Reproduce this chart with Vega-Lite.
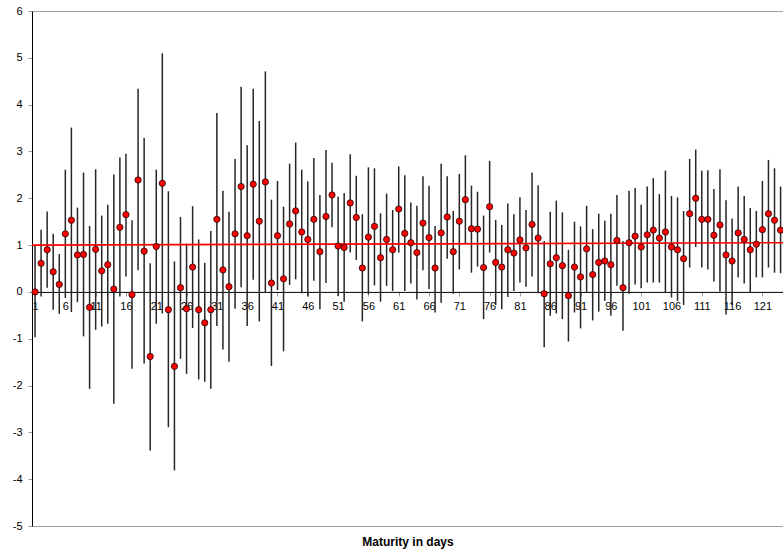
{
  "$schema": "https://vega.github.io/schema/vega-lite/v6.json",
  "width": 751,
  "height": 515,
  "autosize": {"type": "none"},
  "padding": {"left": 32, "top": 11, "right": 0, "bottom": 28},
  "background": "white",
  "config": {
    "view": {"stroke": "#a0a0a0", "strokeWidth": 1},
    "font": "Liberation Sans",
    "axis": {"labelFont": "Liberation Sans", "labelFontSize": 11, "labelColor": "#000", "tickColor": "#999", "domainColor": "#000", "grid": false, "titleFont": "Liberation Sans", "titleColor": "#000"}
  },
  "datasets": {
    "pts": [
      {"d":1,"m":0.00,"lo":-0.97,"hi":1.00},{"d":2,"m":0.61,"lo":-0.10,"hi":1.33},{"d":3,"m":0.90,"lo":0.09,"hi":1.72},{"d":4,"m":0.43,"lo":-0.38,"hi":1.24},{"d":5,"m":0.16,"lo":-0.47,"hi":0.81},
      {"d":6,"m":1.24,"lo":-0.13,"hi":2.61},{"d":7,"m":1.53,"lo":-0.43,"hi":3.51},{"d":8,"m":0.79,"lo":-0.22,"hi":1.80},{"d":9,"m":0.80,"lo":-0.95,"hi":2.55},{"d":10,"m":-0.33,"lo":-2.07,"hi":1.41},
      {"d":11,"m":0.91,"lo":-0.81,"hi":2.62},{"d":12,"m":0.45,"lo":-0.74,"hi":1.63},{"d":13,"m":0.58,"lo":-0.68,"hi":1.86},{"d":14,"m":0.06,"lo":-2.39,"hi":2.51},{"d":15,"m":1.38,"lo":-0.10,"hi":2.87},
      {"d":16,"m":1.65,"lo":0.33,"hi":2.95},{"d":17,"m":-0.06,"lo":-1.64,"hi":1.53},{"d":18,"m":2.39,"lo":0.46,"hi":4.34},{"d":19,"m":0.87,"lo":-1.53,"hi":3.29},{"d":20,"m":-1.38,"lo":-3.39,"hi":0.61},
      {"d":21,"m":0.97,"lo":-0.68,"hi":2.61},{"d":22,"m":2.32,"lo":-0.46,"hi":5.10},{"d":23,"m":-0.38,"lo":-2.89,"hi":2.15},{"d":24,"m":-1.59,"lo":-3.81,"hi":0.65},{"d":25,"m":0.09,"lo":-1.43,"hi":1.60},
      {"d":26,"m":-0.36,"lo":-1.75,"hi":1.03},{"d":27,"m":0.53,"lo":-0.77,"hi":1.83},{"d":28,"m":-0.38,"lo":-1.87,"hi":1.12},{"d":29,"m":-0.66,"lo":-1.92,"hi":0.62},{"d":30,"m":-0.38,"lo":-2.07,"hi":1.30},
      {"d":31,"m":1.55,"lo":-0.73,"hi":3.82},{"d":32,"m":0.47,"lo":-1.23,"hi":2.16},{"d":33,"m":0.11,"lo":-1.49,"hi":1.71},{"d":34,"m":1.24,"lo":-0.36,"hi":2.84},{"d":35,"m":2.25,"lo":0.10,"hi":4.38},
      {"d":36,"m":1.20,"lo":-0.73,"hi":3.13},{"d":37,"m":2.30,"lo":0.26,"hi":4.34},{"d":38,"m":1.51,"lo":-0.63,"hi":3.65},{"d":39,"m":2.35,"lo":-0.01,"hi":4.71},{"d":40,"m":0.19,"lo":-1.58,"hi":1.97},
      {"d":41,"m":1.20,"lo":0.04,"hi":2.37},{"d":42,"m":0.28,"lo":-1.27,"hi":1.82},{"d":43,"m":1.45,"lo":0.15,"hi":2.74},{"d":44,"m":1.73,"lo":0.27,"hi":3.19},{"d":45,"m":1.28,"lo":-0.03,"hi":2.61},
      {"d":46,"m":1.12,"lo":-0.10,"hi":2.36},{"d":47,"m":1.55,"lo":0.24,"hi":2.86},{"d":48,"m":0.86,"lo":-0.37,"hi":2.07},{"d":49,"m":1.61,"lo":0.19,"hi":3.03},{"d":50,"m":2.07,"lo":1.38,"hi":2.76},
      {"d":51,"m":0.98,"lo":-0.09,"hi":2.03},{"d":52,"m":0.95,"lo":-0.21,"hi":2.11},{"d":53,"m":1.90,"lo":0.84,"hi":2.94},{"d":54,"m":1.59,"lo":0.68,"hi":2.48},{"d":55,"m":0.51,"lo":-0.63,"hi":1.66},
      {"d":56,"m":1.17,"lo":-0.05,"hi":2.66},{"d":57,"m":1.40,"lo":0.14,"hi":2.64},{"d":58,"m":0.73,"lo":-0.21,"hi":1.68},{"d":59,"m":1.12,"lo":0.13,"hi":2.10},{"d":60,"m":0.90,"lo":0.02,"hi":1.75},
      {"d":61,"m":1.77,"lo":0.84,"hi":2.68},{"d":62,"m":1.25,"lo":0.02,"hi":2.49},{"d":63,"m":1.05,"lo":0.18,"hi":1.91},{"d":64,"m":0.84,"lo":-0.16,"hi":1.84},{"d":65,"m":1.47,"lo":0.46,"hi":2.47},
      {"d":66,"m":1.16,"lo":0.06,"hi":2.27},{"d":67,"m":0.51,"lo":-0.44,"hi":1.41},{"d":68,"m":1.26,"lo":-0.23,"hi":2.74},{"d":69,"m":1.60,"lo":0.71,"hi":2.47},{"d":70,"m":0.86,"lo":-0.04,"hi":1.73},
      {"d":71,"m":1.51,"lo":0.48,"hi":2.52},{"d":72,"m":1.97,"lo":1.02,"hi":2.92},{"d":73,"m":1.35,"lo":0.41,"hi":2.27},{"d":74,"m":1.34,"lo":0.54,"hi":2.14},{"d":75,"m":0.52,"lo":-0.58,"hi":1.63},
      {"d":76,"m":1.82,"lo":0.84,"hi":2.80},{"d":77,"m":0.63,"lo":-0.28,"hi":1.54},{"d":78,"m":0.53,"lo":-0.37,"hi":1.43},{"d":79,"m":0.90,"lo":-0.11,"hi":1.89},{"d":80,"m":0.83,"lo":0.02,"hi":1.66},
      {"d":81,"m":1.11,"lo":0.20,"hi":2.02},{"d":82,"m":0.94,"lo":0.11,"hi":1.75},{"d":83,"m":1.44,"lo":0.33,"hi":2.55},{"d":84,"m":1.15,"lo":-0.03,"hi":2.28},{"d":85,"m":-0.04,"lo":-1.18,"hi":1.09},
      {"d":86,"m":0.60,"lo":-0.51,"hi":1.71},{"d":87,"m":0.73,"lo":-0.46,"hi":1.95},{"d":88,"m":0.56,"lo":-0.58,"hi":1.70},{"d":89,"m":-0.08,"lo":-1.06,"hi":0.90},{"d":90,"m":0.53,"lo":-0.44,"hi":1.50},
      {"d":91,"m":0.32,"lo":-0.78,"hi":1.40},{"d":92,"m":0.92,"lo":0.00,"hi":1.84},{"d":93,"m":0.37,"lo":-0.61,"hi":1.34},{"d":94,"m":0.63,"lo":-0.42,"hi":1.67},{"d":95,"m":0.66,"lo":-0.19,"hi":1.52},
      {"d":96,"m":0.58,"lo":-0.51,"hi":1.67},{"d":97,"m":1.10,"lo":0.13,"hi":2.07},{"d":98,"m":0.09,"lo":-0.83,"hi":1.09},{"d":99,"m":1.05,"lo":-0.04,"hi":2.16},{"d":100,"m":1.19,"lo":0.16,"hi":2.22},
      {"d":101,"m":0.96,"lo":0.08,"hi":1.86},{"d":102,"m":1.22,"lo":0.20,"hi":2.25},{"d":103,"m":1.32,"lo":0.20,"hi":2.43},{"d":104,"m":1.15,"lo":0.20,"hi":2.09},{"d":105,"m":1.28,"lo":-0.01,"hi":2.59},
      {"d":106,"m":0.96,"lo":-0.12,"hi":2.05},{"d":107,"m":0.90,"lo":-0.19,"hi":2.02},{"d":108,"m":0.71,"lo":-0.28,"hi":1.73},{"d":109,"m":1.67,"lo":0.52,"hi":2.84},{"d":110,"m":2.00,"lo":0.96,"hi":3.04},
      {"d":111,"m":1.55,"lo":0.52,"hi":2.59},{"d":112,"m":1.55,"lo":0.48,"hi":2.60},{"d":113,"m":1.21,"lo":0.22,"hi":2.20},{"d":114,"m":1.43,"lo":0.01,"hi":2.62},{"d":115,"m":0.79,"lo":-0.48,"hi":1.96},
      {"d":116,"m":0.66,"lo":-0.28,"hi":1.57},{"d":117,"m":1.26,"lo":0.31,"hi":2.25},{"d":118,"m":1.12,"lo":0.18,"hi":2.05},{"d":119,"m":0.90,"lo":-0.01,"hi":1.79},{"d":120,"m":1.02,"lo":0.31,"hi":1.73},
      {"d":121,"m":1.33,"lo":0.31,"hi":2.37},{"d":122,"m":1.67,"lo":0.52,"hi":2.82},{"d":123,"m":1.53,"lo":0.41,"hi":2.64},{"d":124,"m":1.32,"lo":0.40,"hi":2.25}
    ],
    "trend": [{"d":0.5,"t":1.0},{"d":124.4,"t":1.05}]
  },
  "encoding": {
    "x": {
      "field": "d", "type": "quantitative",
      "scale": {"domain": [0.5, 124.4], "nice": false, "zero": false},
      "axis": {
        "values": [1,6,11,16,21,26,31,36,41,46,51,56,61,66,71,76,81,86,91,96,101,106,111,116,121],
        "offset": -234.1, "tickSize": 4, "labelPadding": 5, "labelFlush": false,
        "title": "Maturity in days", "titleY": 254, "titleBaseline": "alphabetic",
        "titleFontSize": 12, "titleFontWeight": "bold"
      }
    }
  },
  "layer": [
    {
      "data": {"name": "pts"},
      "mark": {"type": "rule", "color": "#262626", "strokeWidth": 1.5},
      "encoding": {
        "y": {"field": "lo", "type": "quantitative", "scale": {"domain": [-5, 6], "nice": false, "zero": false},
              "axis": {"values": [-5,-4,-3,-2,-1,0,1,2,3,4,5,6], "labelExpr": "'' + datum.value", "title": null, "tickSize": 4, "labelPadding": 6}},
        "y2": {"field": "hi"}
      }
    },
    {
      "data": {"name": "trend"},
      "mark": {"type": "line", "color": "#ff0000", "strokeWidth": 1.6},
      "encoding": {
        "y": {"field": "t", "type": "quantitative", "scale": {"domain": [-5, 6], "nice": false, "zero": false},
              "axis": {"values": [-5,-4,-3,-2,-1,0,1,2,3,4,5,6], "labelExpr": "'' + datum.value", "title": null, "tickSize": 4, "labelPadding": 6}}
      }
    },
    {
      "data": {"name": "pts"},
      "mark": {"type": "circle", "fill": "#ff0000", "stroke": "#000000", "strokeWidth": 0.7, "size": 40, "opacity": 1, "fillOpacity": 1},
      "encoding": {
        "y": {"field": "m", "type": "quantitative", "scale": {"domain": [-5, 6], "nice": false, "zero": false},
              "axis": {"values": [-5,-4,-3,-2,-1,0,1,2,3,4,5,6], "labelExpr": "'' + datum.value", "title": null, "tickSize": 4, "labelPadding": 6}}
      }
    }
  ]
}
